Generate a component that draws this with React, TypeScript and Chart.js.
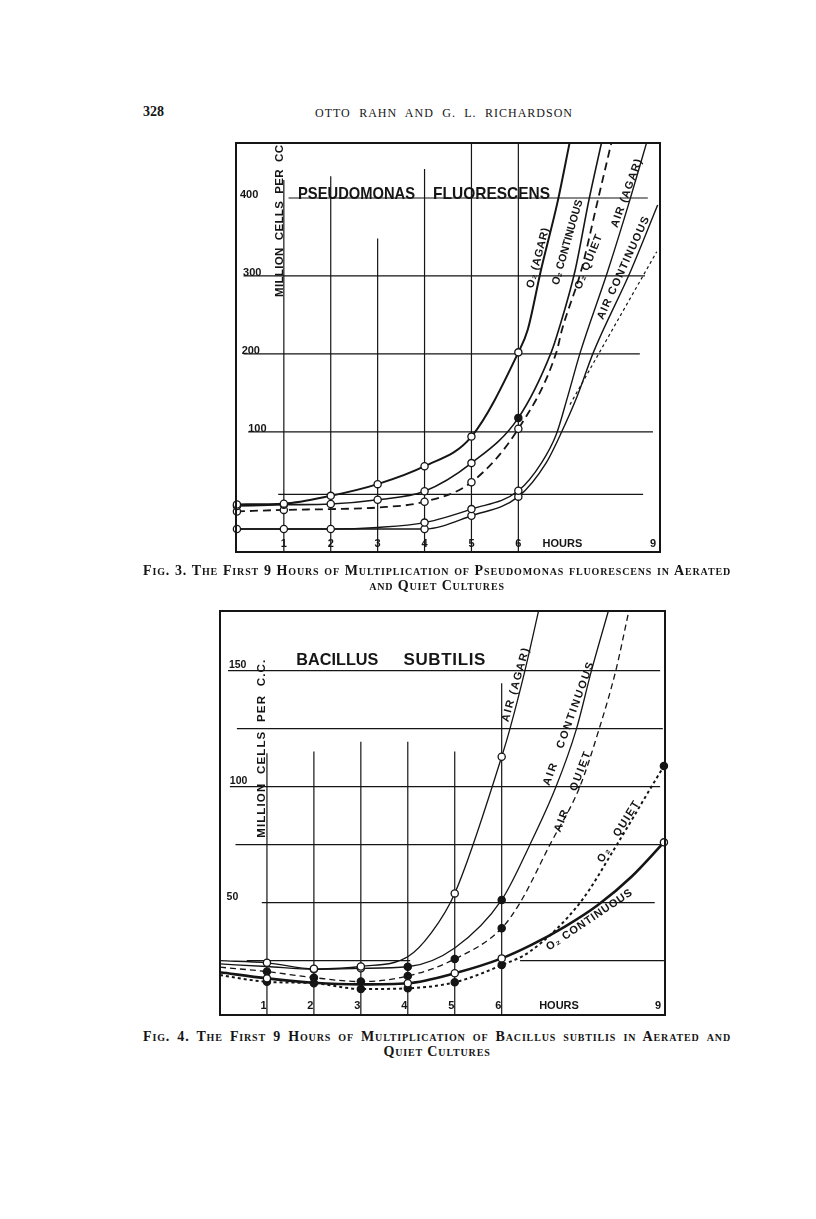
import React, { useEffect, useRef } from 'react';
import { Chart, registerables, LinearScale } from 'chart.js';

// ---------------- Fig. 3 : Pseudomonas fluorescens (million cells per cc) ----------------
const fig3XTicks = [1, 2, 3, 4, 5, 6, 9];
const fig3YTicks = [100, 200, 300, 400];

const fig3O2AgarHours = [0, 1, 2, 3, 4, 5, 6, 6.2, 6.48, 6.84, 7.09];
const fig3O2AgarCells = [7, 8, 18, 33, 56, 94, 202, 231, 307, 396, 470];
const fig3O2AgarMarks = ['o', 'o', 'o', 'o', 'o', 'o', 'o', '', '', '', ''];

const fig3O2ContHours = [0, 1, 2, 3, 4, 5, 6, 6.7, 6.86, 7.21, 7.5, 7.77];
const fig3O2ContCells = [5, 6.5, 7.5, 13, 24, 60, 118, 202, 231, 307, 396, 470];
const fig3O2ContMarks = ['o', 'o', 'o', 'o', 'o', 'o', 'f', '', '', '', '', ''];

const fig3O2QuietHours = [0, 1, 2, 3, 4, 5, 6, 6.81, 6.93, 7.34, 7.69, 7.98];
const fig3O2QuietCells = [-2, 0, 1, 3, 10.5, 35.5, 104, 202, 231, 307, 396, 470];
const fig3O2QuietMarks = ['o', 'o', '', '', 'o', 'o', 'o', '', '', '', '', ''];

const fig3AirAgarHours = [0, 1, 2, 3, 4, 5, 6, 6.49, 6.81, 7.05, 7.32, 7.91, 8.37, 8.73];
const fig3AirAgarCells = [-24.5, -24.5, -24.5, -22.5, -16.3, 1, 24.5, 60, 97, 145, 202, 307, 396, 470];
const fig3AirAgarMarks = ['o', 'o', 'o', '', 'o', 'o', 'o', '', '', '', '', '', '', ''];

const fig3AirContHours = [0, 1, 2, 3, 4, 5, 6, 6.59, 6.9, 7.25, 7.6, 8.4, 8.97];
const fig3AirContCells = [-24.5, -24.5, -24.5, -24.5, -24.5, -7.5, 17, 60, 97, 145, 202, 307, 391];
const fig3AirContMarks = ['', '', '', '', 'o', 'o', 'o', '', '', '', '', '', ''];

const fig3AirQuietHours = [7.1, 7.73, 8.95];
const fig3AirQuietCells = [135, 202, 331];

// ---------------- Fig. 4 : Bacillus subtilis (million cells per c.c.) ----------------
const fig4XTicks = [1, 2, 3, 4, 5, 6, 9];
const fig4YTicks = [50, 100, 150];

const fig4AirAgarHours = [0, 1, 2, 3, 4, 4.5, 5, 6, 6.15, 6.43, 6.68];
const fig4AirAgarCells = [25, 24.1, 21.5, 22.5, 26.7, 37, 54, 112.9, 124.7, 150, 175.5];
const fig4AirAgarMarks = ['', 'o', 'o', 'o', '', '', 'o', 'o', '', '', ''];

const fig4AirContHours = [0, 1, 2, 3, 4, 5, 6, 6.52, 7.0, 7.38, 7.66, 7.97];
const fig4AirContCells = [23.6, 22.5, 21.3, 21.7, 22.4, 30.5, 51.2, 74.9, 99.7, 124.7, 150, 175.5];
const fig4AirContMarks = ['', '', 'o', 'o', 'f', '', 'f', '', '', '', '', ''];

const fig4AirQuietHours = [0, 1, 2, 3, 4, 5, 6, 6.34, 6.89, 7.44, 7.8, 8.11, 8.35];
const fig4AirQuietCells = [22.2, 20.3, 17.7, 16, 18.4, 25.7, 39, 50, 74.9, 99.7, 124.7, 150, 175.5];
const fig4AirQuietMarks = ['', 'f', 'f', 'f', 'f', 'f', 'f', '', '', '', '', '', ''];

const fig4O2QuietHours = [0, 1, 2, 3, 4, 5, 6, 6.52, 7.45, 8.13, 8.77, 9];
const fig4O2QuietCells = [18.8, 15.9, 15.3, 12.8, 13.1, 15.7, 23.1, 28.9, 50, 75, 100, 108.9];
const fig4O2QuietMarks = ['', 'f', 'f', 'f', 'f', 'f', 'f', '', '', '', '', 'f'];

const fig4O2ContHours = [0, 1, 2, 3, 4, 5, 6, 6.55, 7.17, 7.78, 8.4, 9];
const fig4O2ContCells = [20, 17.4, 15.5, 14.8, 15.3, 19.6, 26, 31.8, 39.7, 49, 61.2, 76];
const fig4O2ContMarks = ['', 'o', '', '', 'o', 'o', 'o', '', '', '', '', 'o'];

// ---------------- styling / layout ----------------
const INK = '#151515';
const SANS = "'Liberation Sans', 'DejaVu Sans', Arial, sans-serif";
const SERIF = "'Liberation Serif', 'DejaVu Serif', 'Times New Roman', serif";

// Fig. 4 hour axis is drawn non-uniformly on the original (6 -> 9 stretched)
const FIG4_KNOT_VALUES = [0, 6, 9.02];
const FIG4_KNOT_FRACTIONS = [0, 0.633, 1];

class BrokenLinearScale extends LinearScale {
  static id = 'brokenLinear';
  _toFraction(value: number) {
    const kv = FIG4_KNOT_VALUES;
    const kf = FIG4_KNOT_FRACTIONS;
    let i = 0;
    while (i < kv.length - 2 && value > kv[i + 1]) i++;
    return kf[i] + ((value - kv[i]) / (kv[i + 1] - kv[i])) * (kf[i + 1] - kf[i]);
  }
  getPixelForValue(value: number) {
    if (value === null || value === undefined) return NaN;
    return this.getPixelForDecimal(this._toFraction(value));
  }
  getValueForPixel(pixel: number) {
    const dec = this.getDecimalForPixel(pixel);
    const kv = FIG4_KNOT_VALUES;
    const kf = FIG4_KNOT_FRACTIONS;
    let i = 0;
    while (i < kf.length - 2 && dec > kf[i + 1]) i++;
    return kv[i] + ((dec - kf[i]) / (kf[i + 1] - kf[i])) * (kv[i + 1] - kv[i]);
  }
}

Chart.register(...registerables, BrokenLinearScale);

type Marks = string[] | null;

function series(hours: number[], cells: number[], marks: Marks, width: number, dash: number[] = []) {
  return {
    data: hours.map((h, i) => ({ x: h, y: cells[i] })),
    borderColor: INK,
    borderWidth: width,
    borderDash: dash,
    pointRadius: marks ? marks.map((m) => (m ? 3.6 : 0)) : 0,
    pointBackgroundColor: marks ? marks.map((m) => (m === 'f' ? INK : '#ffffff')) : '#ffffff',
    pointBorderColor: INK,
    pointBorderWidth: 1.3,
    pointHoverRadius: 0,
    cubicInterpolationMode: 'monotone',
    fill: false,
    clip: false,
  };
}

const fig3Layout = {
  hGrid: [
    [400, 1.1, 8.76],
    [300, 0.14, 8.7],
    [200, 0.14, 8.59],
    [100, 0.24, 8.87],
    [20, 0.88, 8.66],
  ],
  vGrid: [
    [1, 423],
    [2, 428],
    [3, 348],
    [4, 437],
    [5, null],
    [6, null],
  ],
  yTicks: fig3YTicks,
  yTickLeft: [0.24, 0.1, 0.13, 0.065],
  yTickDy: -3,
  yTickFont: 11,
  xTicks: fig3XTicks,
  xTickDx: 0,
  xTickInset: 8,
  hoursAt: 6.94,
  texts: [
    { t: 'MILLION  CELLS  PER  CC', h: 0.92, v: 370.5, a: -90, len: 152, size: 11.5 },
    { t: 'PSEUDOMONAS', h: 2.55, v: 405, a: 0, len: 117, size: 17 },
    { t: 'FLUORESCENS', h: 5.43, v: 405, a: 0, len: 117, size: 17 },
    { t: 'O\u2082 (AGAR)', h: 6.42, v: 323, a: -75, len: 62, size: 11 },
    { t: 'O\u2082 CONTINUOUS', h: 7.05, v: 343, a: -74, len: 88, size: 11 },
    { t: 'O\u2082 QUIET', h: 7.5, v: 318, a: -68, len: 58, size: 11 },
    { t: 'AIR (AGAR)', h: 8.31, v: 406, a: -70, len: 72, size: 11 },
    { t: 'AIR CONTINUOUS', h: 8.24, v: 310, a: -65.5, len: 112, size: 11 },
  ],
};

const fig4Layout = {
  hGrid: [
    [150, 0.17, 8.93],
    [125, 0.36, 8.98],
    [100, 0.21, 8.93],
    [75, 0.33, 8.96],
    [50, 0.89, 8.83],
    [25, 0.57, 4.05],
    [25, 6.34, 9.0],
  ],
  vGrid: [
    [1, 114.4],
    [2, 115.1],
    [3, 119.4],
    [4, 119.4],
    [5, 115.1],
    [6, 144.6],
  ],
  yTicks: fig4YTicks,
  yTickLeft: [0.14, 0.21, 0.19],
  yTickDy: -5.5,
  yTickFont: 10.5,
  xTicks: fig4XTicks,
  xTickDx: -3.5,
  xTickInset: 9,
  hoursAt: 7.06,
  texts: [
    { t: 'MILLION  CELLS  PER  C.C.', h: 0.89, v: 116.3, a: -90, len: 178, size: 11.5 },
    { t: 'BACILLUS', h: 2.5, v: 154.6, a: 0, len: 82, size: 17 },
    { t: 'SUBTILIS', h: 4.78, v: 154.6, a: 0, len: 82, size: 17 },
    { t: 'AIR (AGAR)', h: 6.26, v: 143.8, a: -74, len: 76, size: 11 },
    { t: 'AIR   CONTINUOUS', h: 7.24, v: 127, a: -70, len: 130, size: 11 },
    { t: 'AIR    QUIET', h: 7.31, v: 97.7, a: -69, len: 85, size: 11 },
    { t: 'O\u2082   QUIET', h: 8.16, v: 80.5, a: -58, len: 70, size: 11 },
    { t: 'O\u2082 CONTINUOUS', h: 7.62, v: 42.5, a: -34, len: 101, size: 11 },
  ],
};

function fitText(ctx: any, text: string, len: number) {
  // fit a label to the length it has on the original: squeeze or letter-space
  const w = ctx.measureText(text).width;
  if (w < len && 'letterSpacing' in ctx && text.length > 1) {
    const sp = (len - w) / (text.length - 1);
    ctx.letterSpacing = `${sp}px`;
    ctx.fillText(text, sp / 2, 0);
    ctx.letterSpacing = '0px';
  } else {
    ctx.fillText(text, 0, 0, len);
  }
}

function makePaperPlugin(name: string, L: any) {
  return {
    id: 'paper-' + name,
    beforeDatasetsDraw(chart: any) {
      const { ctx, chartArea: a, scales } = chart;
      const x = scales.x;
      const y = scales.y;
      ctx.save();
      ctx.strokeStyle = INK;
      ctx.lineWidth = 1.2;
      ctx.beginPath();
      for (const [v, h0, h1] of L.hGrid) {
        const py = y.getPixelForValue(v);
        ctx.moveTo(x.getPixelForValue(h0), py);
        ctx.lineTo(x.getPixelForValue(h1), py);
      }
      for (const [h, v0] of L.vGrid) {
        const px = x.getPixelForValue(h);
        ctx.moveTo(px, v0 == null ? a.top : y.getPixelForValue(v0));
        ctx.lineTo(px, a.bottom);
      }
      ctx.stroke();
      ctx.restore();
    },
    afterDatasetsDraw(chart: any) {
      const { ctx, chartArea: a, scales } = chart;
      const x = scales.x;
      const y = scales.y;
      ctx.save();
      // frame
      ctx.strokeStyle = INK;
      ctx.lineWidth = 2;
      ctx.strokeRect(a.left, a.top, a.right - a.left, a.bottom - a.top);
      ctx.fillStyle = INK;
      // y tick labels
      ctx.font = `bold ${L.yTickFont}px ${SANS}`;
      ctx.textAlign = 'left';
      ctx.textBaseline = 'middle';
      L.yTicks.forEach((v: number, i: number) => {
        ctx.fillText(String(v), x.getPixelForValue(L.yTickLeft[i]), y.getPixelForValue(v) + L.yTickDy);
      });
      // x tick labels
      ctx.font = `bold 11px ${SANS}`;
      ctx.textAlign = 'center';
      const by = a.bottom - L.xTickInset;
      L.xTicks.forEach((h: number) => {
        let px = x.getPixelForValue(h) + L.xTickDx;
        if (px > a.right - 7) px = a.right - 7;
        ctx.fillText(String(h), px, by);
      });
      ctx.fillText('HOURS', x.getPixelForValue(L.hoursAt), by, 40);
      // titles & curve labels
      for (const t of L.texts) {
        ctx.save();
        ctx.translate(x.getPixelForValue(t.h), y.getPixelForValue(t.v));
        ctx.rotate((t.a * Math.PI) / 180);
        ctx.font = `bold ${t.size}px ${SANS}`;
        ctx.textAlign = 'center';
        ctx.textBaseline = 'middle';
        fitText(ctx, t.t, t.len);
        ctx.restore();
      }
      ctx.restore();
    },
  };
}

function fig3Config() {
  return {
    type: 'line',
    data: {
      datasets: [
        series(fig3O2AgarHours, fig3O2AgarCells, fig3O2AgarMarks, 2),
        series(fig3O2ContHours, fig3O2ContCells, fig3O2ContMarks, 1.6),
        series(fig3O2QuietHours, fig3O2QuietCells, fig3O2QuietMarks, 1.8, [8, 5]),
        series(fig3AirAgarHours, fig3AirAgarCells, fig3AirAgarMarks, 1.4),
        series(fig3AirContHours, fig3AirContCells, fig3AirContMarks, 1.4),
        series(fig3AirQuietHours, fig3AirQuietCells, null, 1.2, [3, 3]),
      ],
    },
    options: {
      animation: false,
      responsive: false,
      devicePixelRatio: 1,
      events: [],
      layout: { padding: 12 },
      plugins: { legend: { display: false }, tooltip: { enabled: false }, title: { display: false } },
      scales: {
        x: { type: 'linear', min: -0.02, max: 9.02, display: false },
        y: { type: 'linear', min: -54, max: 470.5, display: false },
      },
    },
    plugins: [makePaperPlugin('fig3', fig3Layout)],
  };
}

function fig4Config() {
  return {
    type: 'line',
    data: {
      datasets: [
        series(fig4O2ContHours, fig4O2ContCells, fig4O2ContMarks, 2.6),
        series(fig4AirAgarHours, fig4AirAgarCells, fig4AirAgarMarks, 1.3),
        series(fig4AirContHours, fig4AirContCells, fig4AirContMarks, 1.3),
        series(fig4AirQuietHours, fig4AirQuietCells, fig4AirQuietMarks, 1.3, [6, 4]),
        series(fig4O2QuietHours, fig4O2QuietCells, fig4O2QuietMarks, 2, [3, 3]),
      ],
    },
    options: {
      animation: false,
      responsive: false,
      devicePixelRatio: 1,
      events: [],
      layout: { padding: 12 },
      plugins: { legend: { display: false }, tooltip: { enabled: false }, title: { display: false } },
      scales: {
        x: { type: 'brokenLinear', min: 0, max: 9.02, display: false },
        y: { type: 'linear', min: 1.6, max: 175.7, display: false },
      },
    },
    plugins: [makePaperPlugin('fig4', fig4Layout)],
  };
}

function ChartCanvas({ make, left, top, width, height }: any) {
  const ref = useRef<HTMLCanvasElement>(null);
  useEffect(() => {
    const chart = new Chart(ref.current as HTMLCanvasElement, make());
    return () => chart.destroy();
  }, [make]);
  return (
    <canvas
      ref={ref}
      width={width}
      height={height}
      style={{ position: 'absolute', left, top, width, height, display: 'block' }}
    />
  );
}

const captionStyle: React.CSSProperties = {
  position: 'absolute',
  left: 135,
  width: 588,
  fontFamily: SERIF,
  fontWeight: 'bold',
  fontVariant: 'small-caps',
  fontSize: 14,
  letterSpacing: 0.85,
  lineHeight: '15px',
  color: INK,
};

export default function App() {
  return (
    <div style={{ position: 'relative', width: 800, height: 1203, background: '#fff', color: INK }}>
      <div style={{ position: 'absolute', left: 135, top: 97, fontFamily: SERIF, fontWeight: 'bold', fontSize: 14, lineHeight: '14px' }}>
        328
      </div>
      <div
        style={{
          position: 'absolute',
          left: 307,
          top: 98,
          width: 258,
          fontFamily: SERIF,
          fontSize: 12,
          lineHeight: '14px',
          letterSpacing: 1.0,
          textAlignLast: 'justify',
          whiteSpace: 'nowrap',
        }}
      >
        OTTO RAHN AND G. L. RICHARDSON
      </div>

      <ChartCanvas make={fig3Config} left={216} top={123} width={448} height={433} />

      <div style={{ ...captionStyle, top: 555 }}>
        <div style={{ textAlignLast: 'justify', whiteSpace: 'nowrap' }}>
          Fig. 3. The First 9 Hours of Multiplication of Pseudomonas fluorescens in Aerated
        </div>
        <div style={{ textAlign: 'center' }}>and Quiet Cultures</div>
      </div>

      <ChartCanvas make={fig4Config} left={200} top={591} width={469} height={428} />

      <div style={{ ...captionStyle, top: 1021 }}>
        <div style={{ textAlignLast: 'justify', whiteSpace: 'nowrap' }}>
          Fig. 4. The First 9 Hours of Multiplication of Bacillus subtilis in Aerated and
        </div>
        <div style={{ textAlign: 'center' }}>Quiet Cultures</div>
      </div>
    </div>
  );
}
